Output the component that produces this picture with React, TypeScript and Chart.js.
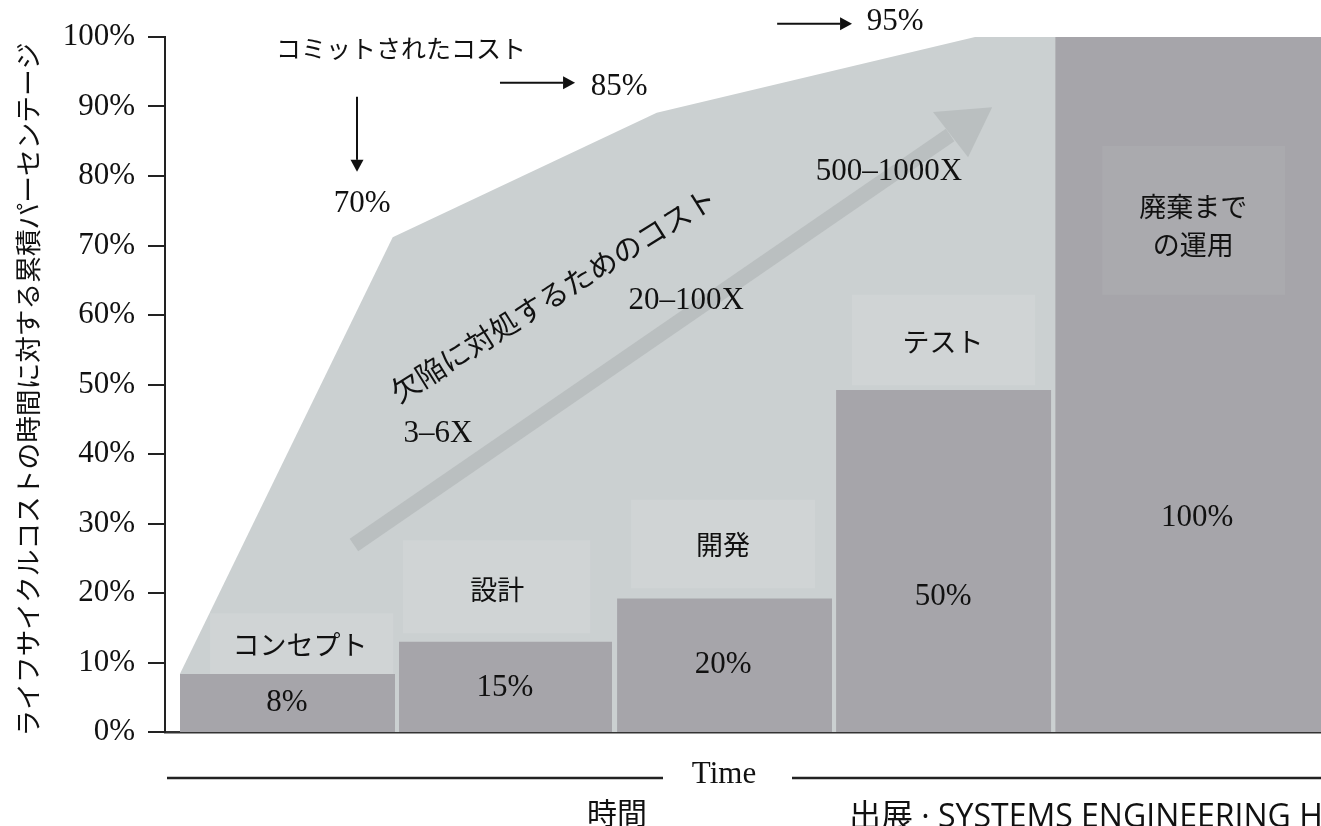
import React, { useEffect, useRef } from 'react';
import { Chart, registerables } from 'chart.js';

Chart.register(...registerables);

// ---------------- data ----------------
const phaseNames = ['コンセプト', '設計', '開発', 'テスト', '廃棄まで\nの運用'];
// phase extents along the time axis (phase units)
const phaseStart = [0.068, 1.069, 2.065, 3.065, 4.066];
const phaseEnd = [1.051, 2.042, 3.047, 4.048, 5.28];
// cumulative life-cycle cost actually spent (bar heights, %)
const spentCost = [8.35, 13.0, 19.2, 49.2, 100];
const spentLabels = ['8%', '15%', '20%', '50%', '100%'];
// committed cost curve
const committedX = [0.068, 1.04, 2.246, 3.7, 5.28];
const committedY = [8.35, 71.2, 89.1, 100, 100];
const committedLabels = ['70%', '85%', '95%'];
// cost to fix defects
const defectCostLabels = ['3–6X', '20–100X', '500–1000X'];
const yTickValues = [0, 10, 20, 30, 40, 50, 60, 70, 80, 90, 100];
const X_MAX = 5.28;

// ---------------- layout (positions in axis units) ----------------
const L = {
  spentLabelPos: [[0.557, 4.2], [1.553, 6.3], [2.549, 9.6], [3.554, 19.4], [4.714, 30.8]],
  phaseLabelPos: [[0.617, 12.5], [1.517, 20.4], [2.549, 26.9], [3.554, 56.1], [4.696, 72.8]],
  labelBoxes: [
    [0.206, 1.042, 8.35, 17.1],
    [1.087, 1.942, 14.2, 27.6],
    [2.129, 2.969, 20.7, 33.4],
    [3.138, 3.974, 49.9, 62.9],
    [4.281, 5.116, 62.9, 84.3],
  ],
  committedTitle: [1.078, 98.3],
  committedLabelPos: [[0.9, 76.0], [2.074, 92.8], [3.335, 102.2]],
  committedArrows: [
    [[0.877, 91.4], [0.877, 80.6]],
    [[1.53, 93.4], [1.873, 93.4]],
    [[2.796, 101.9], [3.138, 101.9]],
  ],
  defectLabelPos: [[1.247, 42.9], [2.381, 62.0], [3.307, 80.6]],
  defectTitlePos: [1.773, 62.9],
  arrowShaft: [[0.863, 26.9], [3.586, 85.9]],
  arrowHead: [[3.778, 89.9], [3.508, 89.2], [3.668, 82.7]],
};

const Y_TITLE = 'ライフサイクルコストの時間に対する累積パーセンテージ';
const SOURCE = '出展 · SYSTEMS ENGINEERING HANDBOOK';

const SERIF = '"Liberation Serif", "Times New Roman", serif';
const SANS = '"Noto Sans CJK JP", "Noto Sans", sans-serif';
const TEXT = '#111111';
const AREA = '#cbd0d1';
const BAR = '#a6a5aa';
const BOX = '#d0d4d5';
const BOX_ON_BAR = '#aaaaae';
const ARROW = '#babfc0';

const rect = (x0: number, x1: number, y0: number, y1: number) => [
  { x: x0, y: y0 },
  { x: x0, y: y1 },
  { x: x1, y: y1 },
  { x: x1, y: y0 },
];

const annotationPlugin = {
  id: 'annotations',
  afterDraw(chart: any) {
    const { ctx, chartArea } = chart;
    const xs = chart.scales.x;
    const ys = chart.scales.y;
    const X = (v: number) => xs.getPixelForValue(v);
    const Y = (v: number) => ys.getPixelForValue(v);
    ctx.save();
    ctx.fillStyle = TEXT;
    ctx.textAlign = 'center';
    ctx.textBaseline = 'middle';
    const text = (s: string, px: number, py: number, font: string) => {
      ctx.font = font;
      ctx.fillText(s, px, py);
    };
    const serif = `31px ${SERIF}`;
    const sans = `27px ${SANS}`;

    // y axis title
    ctx.save();
    ctx.translate(28, (chartArea.top + chartArea.bottom) / 2 + 5);
    ctx.rotate(-Math.PI / 2);
    text(Y_TITLE, 0, 0, `26.7px ${SANS}`);
    ctx.restore();

    // bar value labels
    spentLabels.forEach((s, i) => {
      const [vx, vy] = L.spentLabelPos[i];
      text(s, X(vx), Y(vy), serif);
    });
    // phase names
    phaseNames.forEach((s, i) => {
      const [vx, vy] = L.phaseLabelPos[i];
      const lines = s.split('\n');
      const lh = 38;
      lines.forEach((ln, j) => {
        text(ln, X(vx), Y(vy) + (j - (lines.length - 1) / 2) * lh, sans);
      });
    });
    // committed cost
    text('コミットされたコスト', X(L.committedTitle[0]), Y(L.committedTitle[1]), `25px ${SANS}`);
    committedLabels.forEach((s, i) => {
      const [vx, vy] = L.committedLabelPos[i];
      text(s, X(vx), Y(vy), serif);
    });
    ctx.strokeStyle = TEXT;
    ctx.lineWidth = 2;
    L.committedArrows.forEach(([a, b]) => {
      const x0 = X(a[0]), y0 = Y(a[1]), x1 = X(b[0]), y1 = Y(b[1]);
      const ang = Math.atan2(y1 - y0, x1 - x0);
      const hl = 12, hw = 6.5;
      const bx = x1 - hl * Math.cos(ang), by = y1 - hl * Math.sin(ang);
      ctx.beginPath();
      ctx.moveTo(x0, y0);
      ctx.lineTo(bx, by);
      ctx.stroke();
      ctx.beginPath();
      ctx.moveTo(x1, y1);
      ctx.lineTo(bx + hw * Math.sin(ang), by - hw * Math.cos(ang));
      ctx.lineTo(bx - hw * Math.sin(ang), by + hw * Math.cos(ang));
      ctx.closePath();
      ctx.fill();
    });
    // defect costs
    defectCostLabels.forEach((s, i) => {
      const [vx, vy] = L.defectLabelPos[i];
      text(s, X(vx), Y(vy), serif);
    });
    ctx.save();
    ctx.translate(X(L.defectTitlePos[0]), Y(L.defectTitlePos[1]));
    ctx.rotate((-32 * Math.PI) / 180);
    text('欠陥に対処するためのコスト', 0, 0, `29px ${SANS}`);
    ctx.restore();

    // time axis
    const ty = chartArea.bottom + 46;
    ctx.lineWidth = 2.5;
    ctx.strokeStyle = '#222';
    ctx.beginPath();
    ctx.moveTo(chartArea.left + 2, ty);
    ctx.lineTo(663, ty);
    ctx.moveTo(792, ty);
    ctx.lineTo(chartArea.right, ty);
    ctx.stroke();
    text('Time', 724, ty - 3, serif);
    text('時間', 617, ty + 35, `30px ${SANS}`);
    ctx.textAlign = 'left';
    ctx.textBaseline = 'alphabetic';
    ctx.font = `32px "Open Sans", ${SANS}`;
    ctx.fillText(SOURCE, 849, 827);
    ctx.restore();
  },
};

export default function App() {
  const ref = useRef<HTMLCanvasElement>(null);
  useEffect(() => {
    document.body.style.margin = '0';
    const datasets: any[] = [];
    // committed cost area
    datasets.push({
      data: committedX.map((x, i) => ({ x, y: committedY[i] })),
      backgroundColor: AREA,
      borderColor: 'rgba(0,0,0,0)',
      borderWidth: 0,
      fill: 'origin',
      pointRadius: 0,
      order: 10,
    });
    // spent cost bars
    phaseNames.forEach((_, i) => {
      datasets.push({
        data: rect(phaseStart[i], phaseEnd[i], 0, spentCost[i]),
        backgroundColor: BAR,
        borderColor: 'rgba(0,0,0,0)',
        borderWidth: 0,
        fill: 'origin',
        pointRadius: 0,
        order: 8,
      });
    });
    // label boxes
    L.labelBoxes.forEach((b, i) => {
      datasets.push({
        data: rect(b[0], b[1], b[2], b[3]),
        backgroundColor: i === 4 ? BOX_ON_BAR : BOX,
        borderColor: 'rgba(0,0,0,0)',
        borderWidth: 0,
        fill: 'shape',
        pointRadius: 0,
        order: 6,
      });
    });
    // defect cost arrow
    datasets.push({
      data: L.arrowShaft.map(([x, y]) => ({ x, y })),
      borderColor: ARROW,
      borderWidth: 15,
      borderCapStyle: 'butt',
      fill: false,
      pointRadius: 0,
      order: 4,
    });
    datasets.push({
      data: L.arrowHead.map(([x, y]) => ({ x, y })),
      backgroundColor: ARROW,
      borderColor: 'rgba(0,0,0,0)',
      borderWidth: 0,
      fill: 'shape',
      pointRadius: 0,
      order: 4,
    });

    const chart = new Chart(ref.current as HTMLCanvasElement, {
      type: 'line',
      data: { datasets },
      options: {
        animation: false,
        responsive: false,
        events: [],
        layout: { padding: { left: 0, right: 0, top: 37, bottom: 94 } },
        elements: { line: { tension: 0 } },
        plugins: {
          legend: { display: false },
          tooltip: { enabled: false },
        },
        scales: {
          x: {
            type: 'linear',
            min: 0,
            max: X_MAX,
            ticks: { display: false },
            grid: { display: false },
            border: { display: true, color: '#333', width: 2.5 },
            afterFit: (s: any) => {
              s.height = 0;
            },
          },
          y: {
            type: 'linear',
            min: 0,
            max: 100,
            afterBuildTicks: (s: any) => {
              s.ticks = yTickValues.map((v) => ({ value: v }));
            },
            ticks: {
              callback: (v: any) => `${v}%`,
              color: TEXT,
              font: { family: SERIF, size: 31 },
              padding: 13,
            },
            grid: {
              display: true,
              drawOnChartArea: false,
              drawTicks: true,
              tickLength: 17,
              color: '#222',
              lineWidth: 2,
            },
            border: { display: true, color: '#222', width: 2 },
            title: { display: false },
            afterFit: (s: any) => {
              s.width = 165;
            },
          },
        },
      },
      plugins: [annotationPlugin],
    } as any);
    return () => chart.destroy();
  }, []);
  return (
    <div style={{ width: 1321, height: 826, overflow: 'hidden', position: 'relative' }}>
      <canvas ref={ref} width={1321} height={826} style={{ display: 'block' }} />
    </div>
  );
}
